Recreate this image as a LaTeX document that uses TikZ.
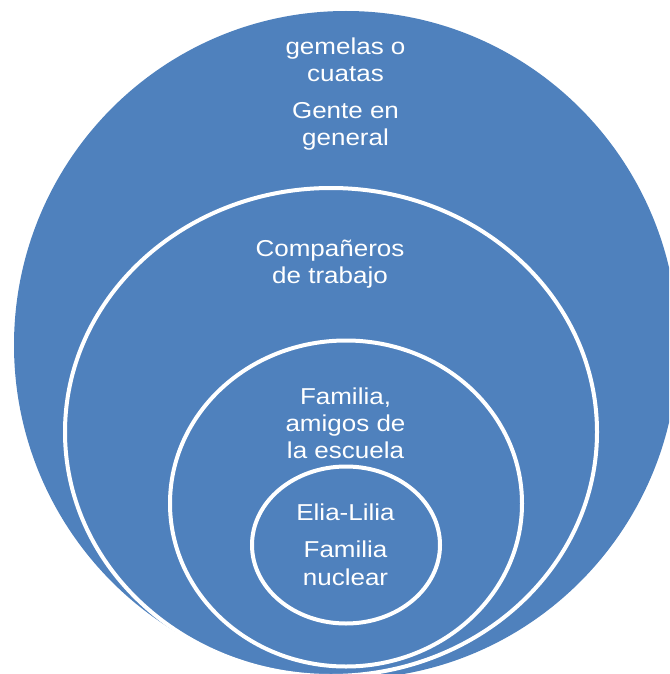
\documentclass[tikz,border=0pt]{standalone}
\usepackage{fontspec}
\setmainfont{Liberation Sans}[FakeStretch=1.13]
\definecolor{vennblue}{HTML}{4F81BD}
\begin{document}
\begin{tikzpicture}[x=1pt,y=-1pt,
  ring/.style={fill=vennblue,draw=white,line width=4pt},
  lbl/.style={text=white,font=\fontsize{23}{27}\selectfont,anchor=base,inner sep=0pt}]
\useasboundingbox (0,0) rectangle (669,674);
\clip (0,0) rectangle (669,674);
% outer shape
\fill[vennblue] (346,345) ellipse [x radius=332pt, y radius=334pt];
% nested rings
\draw[ring] (331,432) ellipse [x radius=266pt, y radius=244pt];
\draw[ring] (346,503.5) ellipse [x radius=176pt, y radius=163pt];
\draw[ring] (346,545) ellipse [x radius=94pt, y radius=78.5pt];
% texts
\node[lbl] (t1) at (345.5,54.5) {gemelas o};
\node[lbl] (t2) at (345.5,81.5) {cuatas};
\node[lbl] (t3) at (345.5,119) {Gente en};
\node[lbl] (t4) at (345.5,145.5) {general};
\node[lbl] (t5) at (330,256.7) {Compañeros};
\node[lbl] (t6) at (330,283.3) {de trabajo};
\node[lbl] (t7) at (345.5,404) {Familia,};
\node[lbl] (t8) at (345.5,431) {amigos de};
\node[lbl] (t9) at (345.5,458) {la escuela};
\node[lbl] (t10) at (345.5,520) {Elia-Lilia};
\node[lbl] (t11) at (345.5,557.5) {Familia};
\node[lbl] (t12) at (345.5,585) {nuclear};
\end{tikzpicture}
\end{document}
